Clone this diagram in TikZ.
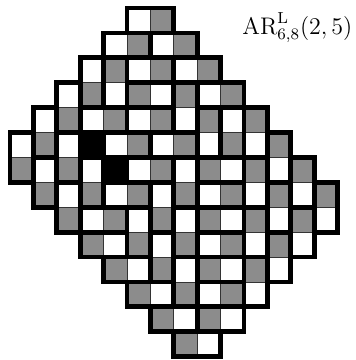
\documentclass[tikz,border=0pt]{standalone}
\usepackage{amsmath}
\usepackage{tikz}
\definecolor{cellgray}{HTML}{8C8C8C}

\begin{document}
\begin{tikzpicture}[
  x=0.5pt,y=-0.5pt,
  cell/.style={draw=black!80,line width=0.4pt},
  dom/.style={draw=black,line width=2.4pt,line join=miter},
  hole/.style={fill=black,draw=black,line width=2.4pt},
  lab/.style={anchor=base west,inner sep=0pt,font=\fontsize{12}{14}\selectfont}
]
\useasboundingbox (0,0) rectangle (355,360);
% cells of the region, row/first column/last column
\foreach \r/\a/\b in {0/5/6,1/4/7,2/3/8,3/2/9,4/1/10,5/0/11,6/0/12,
                      7/1/13,8/2/13,9/3/12,10/4/11,11/5/10,12/6/9,13/7/8}{
  \foreach \c in {\a,...,\b}{
    \pgfmathtruncatemacro\pp{mod(\r+\c,2)}
    \ifnum\pp=0 \def\fc{cellgray}\else\def\fc{white}\fi
    \draw[cell,fill=\fc] ({10+23.4*\c},{8+24.9*\r}) rectangle ++(23.4,24.9);
  }
}
% horizontal dominoes
\foreach \r/\c in {0/5,1/4,1/6,2/5,2/7,3/5,3/8,4/3,4/5,5/4,5/6,6/5,6/8,
                   7/4,7/8,8/3,8/8,9/3,9/8,10/4,10/8,11/5,11/8,12/6,12/8,13/7}
  \draw[dom] ({10+23.4*\c},{8+24.9*\r}) rectangle ++(46.8,24.9);
% vertical dominoes
\foreach \r/\c in {2/3,2/4,3/2,3/7,4/1,4/8,4/9,4/10,5/0,5/2,5/11,6/1,6/3,6/7,
                   6/10,6/12,7/2,7/6,7/11,7/13,8/5,8/7,8/10,8/12,9/6,9/11,10/7,10/10}
  \draw[dom] ({10+23.4*\c},{8+24.9*\r}) rectangle ++(23.4,49.8);
% removed squares
\foreach \r/\c in {5/3,6/4}
  \draw[hole] ({10+23.4*\c},{8+24.9*\r}) rectangle ++(23.4,24.9);
\node[lab] (name) at (242,34) {$\mathrm{AR}^{\mathrm{L}}_{6,8}(2,5)$};
\end{tikzpicture}
\end{document}
